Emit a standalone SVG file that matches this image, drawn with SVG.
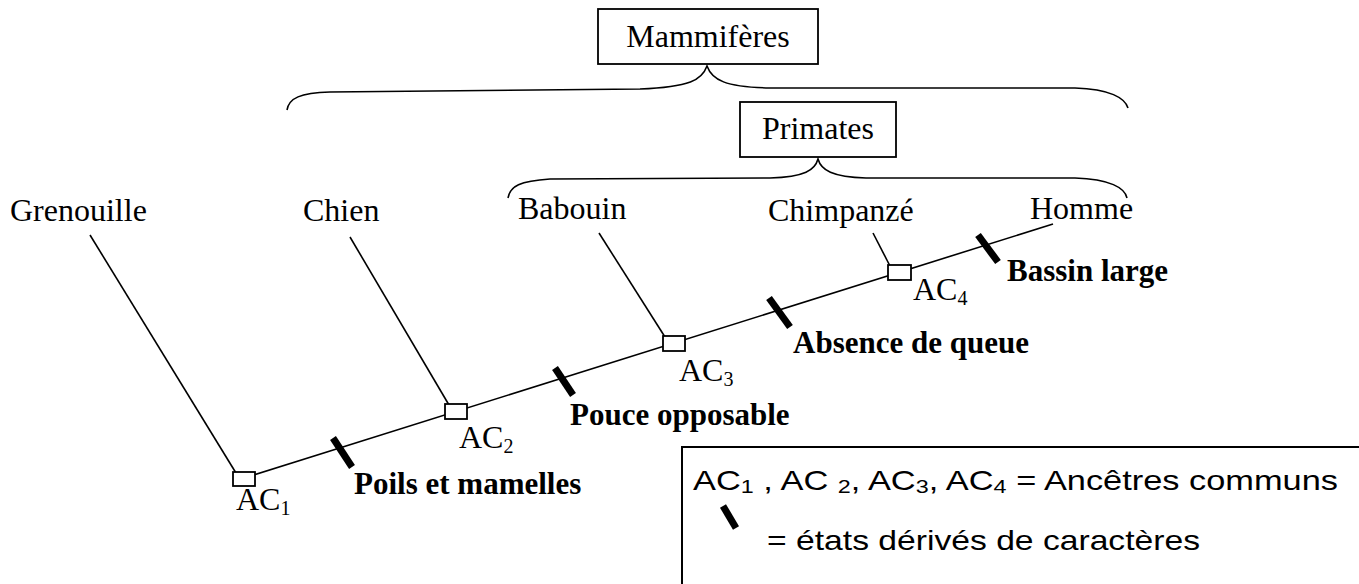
<svg xmlns="http://www.w3.org/2000/svg" width="1359" height="584" viewBox="0 0 1359 584">
<style>
.t{font-family:"Liberation Serif","Times New Roman",serif;font-size:32px;fill:#000}
.b{font-family:"Liberation Serif","Times New Roman",serif;font-size:31px;font-weight:bold;fill:#000}
.s{font-size:20px}
.l{font-family:"Liberation Sans",Arial,sans-serif;font-size:28px;fill:#000}
.ln{stroke:#000;stroke-width:1.6;fill:none}
.tk{stroke:#000;stroke-width:7;stroke-linecap:butt}
.box{fill:#fff;stroke:#000;stroke-width:1.8}
</style>
<rect width="1359" height="584" fill="#fff"/>
<g id="connectors">
<path class="ln" d="M287,110 C289,98 300,93 330,92 L640,89 C690,87 702,80 707,66 C712,80 725,87 770,88 L1075,88 C1110,89 1125,98 1128,108"/>
<path class="ln" d="M508,198 C510,186 520,181 550,179 L770,178 C805,177 815,170 818,159 C821,170 832,177 866,178 L1075,178 C1110,179 1125,188 1127,198"/>
<line class="ln" x1="244" y1="478" x2="1053" y2="224"/>
<line class="ln" x1="90" y1="235" x2="236" y2="473"/>
<line class="ln" x1="350" y1="237" x2="449" y2="405"/>
<line class="ln" x1="599" y1="233" x2="665" y2="337"/>
<line class="ln" x1="873" y1="233" x2="890" y2="266"/>
</g>
<g id="ticks">
<line class="tk" x1="333" y1="438" x2="352" y2="467"/>
<line class="tk" x1="555" y1="368" x2="573" y2="395"/>
<line class="tk" x1="769" y1="298" x2="790" y2="327"/>
<line class="tk" x1="978" y1="235" x2="998" y2="262"/>
</g>
<g id="mammiferes">
<rect class="box" x="598" y="9" width="220" height="55"/>
<text class="t" x="708" y="47" text-anchor="middle">Mammifères</text>
</g>
<g id="primates">
<rect class="box" x="740" y="102" width="156" height="55"/>
<text class="t" x="818" y="139" text-anchor="middle">Primates</text>
</g>
<g id="grenouille"><text class="t" x="10" y="221">Grenouille</text></g>
<g id="chien"><text class="t" x="303" y="221">Chien</text></g>
<g id="babouin"><text class="t" x="518" y="219">Babouin</text></g>
<g id="chimpanze"><text class="t" x="768" y="221">Chimpanzé</text></g>
<g id="homme"><text class="t" x="1030" y="219">Homme</text></g>
<g id="ac1">
<rect class="box" x="233" y="472" width="22" height="14"/>
<text class="t" x="236" y="510">AC<tspan class="s" dy="5">1</tspan></text>
</g>
<g id="ac2">
<rect class="box" x="445" y="404" width="22" height="15"/>
<text class="t" x="459" y="448">AC<tspan class="s" dy="5">2</tspan></text>
</g>
<g id="ac3">
<rect class="box" x="663" y="336" width="22" height="15"/>
<text class="t" x="679" y="381">AC<tspan class="s" dy="5">3</tspan></text>
</g>
<g id="ac4">
<rect class="box" x="888" y="265" width="23" height="15"/>
<text class="t" x="913" y="300">AC<tspan class="s" dy="5">4</tspan></text>
</g>
<g id="characters">
<text class="b" x="354" y="494">Poils et mamelles</text>
<text class="b" x="570" y="425">Pouce opposable</text>
<text class="b" x="793" y="353">Absence de queue</text>
<text class="b" x="1007" y="281">Bassin large</text>
</g>
<g id="legend">
<path d="M682,590 L682,447 L1365,447" fill="none" stroke="#000" stroke-width="2"/>
<text class="l" x="693" y="490" textLength="645" lengthAdjust="spacingAndGlyphs">AC<tspan font-size="19" dy="3">1</tspan><tspan dy="-3"> , AC </tspan><tspan font-size="19" dy="3">2</tspan><tspan dy="-3">, AC</tspan><tspan font-size="19" dy="3">3</tspan><tspan dy="-3">, AC</tspan><tspan font-size="19" dy="3">4</tspan><tspan dy="-3"> = Ancêtres communs</tspan></text>
<line class="tk" x1="723" y1="506" x2="736" y2="528"/>
<text class="l" x="767" y="550" textLength="433" lengthAdjust="spacingAndGlyphs">= états dérivés de caractères</text>
</g>
</svg>
